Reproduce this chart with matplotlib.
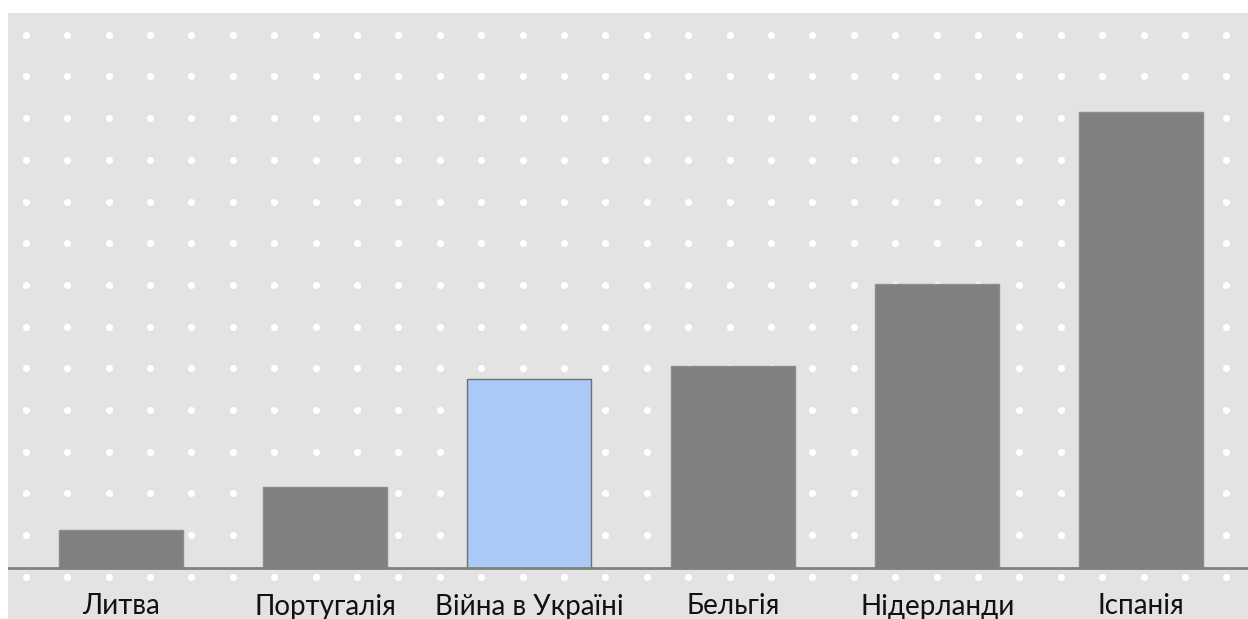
import numpy as np
import matplotlib
matplotlib.use("Agg")
import matplotlib.pyplot as plt
from matplotlib.patches import Rectangle

# data (arbitrary units)
categories = ["Литва", "Португалія", "Війна в Україні", "Бельгія", "Нідерланди", "Іспанія"]
values = [38, 81, 189, 202, 284, 456]
highlight = "Війна в Україні"

W, H = 1248, 619
fig = plt.figure(figsize=(W / 100, H / 100), dpi=100)
fig.patch.set_facecolor("white")

# background: grey panel with a white dot pattern (pixel coords)
bg = fig.add_axes([0, 0, 1, 1], zorder=0)
bg.set_xlim(0, W)
bg.set_ylim(H, 0)
bg.axis("off")
bg.add_patch(Rectangle((8, 13), W - 8, H - 13, color="#e3e3e3", lw=0))
dx = 25.7 + 41.4 * np.arange(30)
dy = 34.7 + 41.7 * np.arange(14)
gx, gy = np.meshgrid(dx, dy)
bg.scatter(gx.ravel(), gy.ravel(), s=26, color="white", lw=0)

# main chart
left = 8 / W
ax = fig.add_axes([left, 0, 1 - left, (H - 13) / H], zorder=1)
ax.patch.set_alpha(0)
x = np.arange(len(categories))
colors = ["#abc9f6" if c == highlight else "#808080" for c in categories]
edges = ["#6f6f6f" if c == highlight else "#8c8c8c" for c in categories]
ax.bar(x, values, width=0.608, color=colors, edgecolor=edges, linewidth=1, zorder=2)
ax.axhline(0, color="#808080", lw=2, zorder=3)

ax.set_xlim(-0.555, 5.523)
ax.set_ylim(-51, 555)
for xi, c in zip(x, categories):
    ax.text(xi, -46.5, c, ha="center", va="baseline", fontsize=20,
            family=["Lato", "DejaVu Sans"], color="#111111")
ax.axis("off")

fig.savefig("out.png", dpi=100)
